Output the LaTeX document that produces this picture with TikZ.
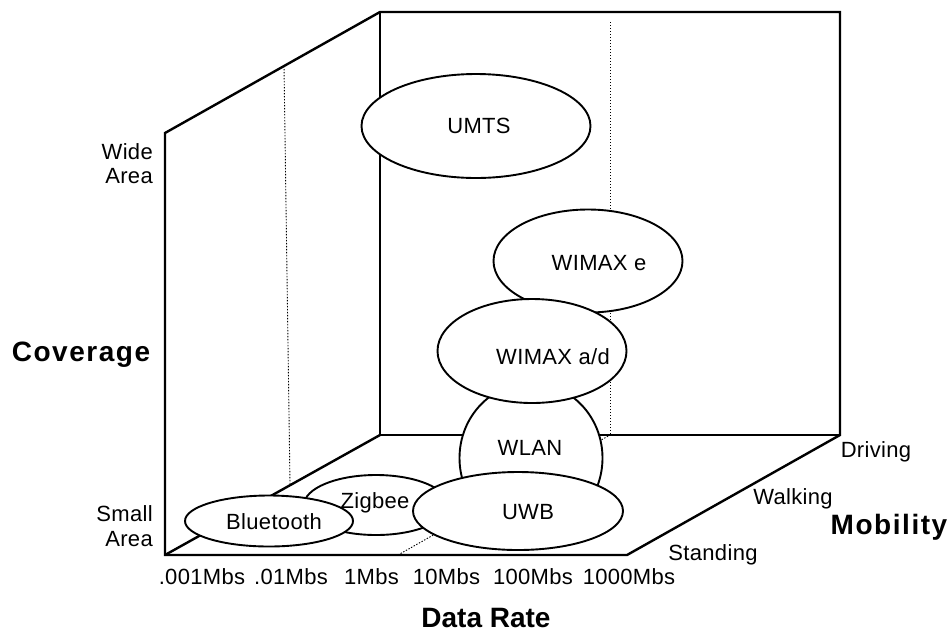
\documentclass[tikz,border=0pt]{standalone}
\usepackage{fontspec}
\setmainfont{Liberation Sans}
\newfontfamily\lblfont[LetterSpace=1.5]{Liberation Sans}
\newfontfamily\axisfont[LetterSpace=5.5]{Liberation Sans}
\usetikzlibrary{shapes.geometric}
\begin{document}
\begin{tikzpicture}[x=1pt,y=-1pt,
  frame/.style={line width=2.4pt,line join=miter},
  gridline/.style={line width=0.9pt,dash pattern=on 1.4pt off 1.6pt},
  blob/.style={ellipse,draw,fill=white,line width=1.9pt,inner sep=0pt},
  txt/.style={inner sep=0pt,font=\lblfont\fontsize{22}{24}\selectfont},
  axis/.style={inner sep=0pt,font=\axisfont\fontsize{28}{30}\selectfont\bfseries},
  axisplain/.style={inner sep=0pt,font=\fontsize{28}{30}\selectfont\bfseries}]
\useasboundingbox (0,0) rectangle (949,638);
% frame corners
\coordinate (A) at (165,555);
\coordinate (B) at (165,133);
\coordinate (C) at (380,12);
\coordinate (D) at (380,435);
\coordinate (E) at (840,12);
\coordinate (F) at (840,435);
\coordinate (G) at (627,555);
% grid line end points
\coordinate (g1t) at (284,66);
\coordinate (g1b) at (290,484);
\coordinate (g2t) at (610,22);
\coordinate (g2b) at (610,435);
\coordinate (g3f) at (398,555);
% dotted grid lines
\draw[gridline] (g1t) -- (g1b);
\draw[gridline] (g2t) -- (g2b);
\draw[gridline] (g3f) -- (g2b);
% frame
\draw[frame] (A) -- (B) -- (C) -- (E) -- (F) -- (G) -- cycle;
\draw[frame] (C) -- (D) -- (F);
\draw[frame] (A) -- (D);
% technology ellipses
\node[blob,minimum width=229pt,minimum height=104pt] (umts) at (476,126) {};
\node[blob,minimum width=189pt,minimum height=103pt] (wimaxe) at (588,261) {};
\node[blob,minimum width=143pt,minimum height=150pt] (wlan) at (531,458) {};
\node[blob,minimum width=189pt,minimum height=104pt] (wimaxad) at (532,351) {};
\node[blob,minimum width=144pt,minimum height=60pt] (zigbee) at (376,505) {};
\node[blob,minimum width=168pt,minimum height=51pt] (bluetooth) at (269,521) {};
\node[blob,minimum width=210pt,minimum height=78pt] (uwb) at (518,511) {};
% ellipse texts
\node[txt] (tumts) at (479,126) {UMTS};
\node[txt] (twimaxe) at (599,263) {WIMAX e};
\node[txt] (twimaxad) at (553,357) {WIMAX a/d};
\node[txt] (twlan) at (530,448) {WLAN};
\node[txt] (tuwb) at (528,512) {UWB};
\node[txt] (tzigbee) at (375,503) {Zigbee};
\node[txt] (tbluetooth) at (274,522) {Bluetooth};
% coverage axis
\node[txt,align=right,anchor=east] (wide) at (153,164) {Wide\\Area};
\node[txt,align=right,anchor=east,font=\lblfont\fontsize{22}{25}\selectfont] (small) at (153,526) {Small\\Area};
\node[axis] (coverage) at (81,355) {Coverage};
% data rate axis
\node[txt] (r1) at (202,577) {.001Mbs};
\node[txt] (r2) at (291,577) {.01Mbs};
\node[txt] (r3) at (371.5,577) {1Mbs};
\node[txt] (r4) at (446.5,577) {10Mbs};
\node[txt] (r5) at (533,577) {100Mbs};
\node[txt] (r6) at (629,577) {1000Mbs};
\node[axisplain] (datarate) at (486,618) {Data Rate};
% mobility axis
\node[txt] (standing) at (713,555) {Standing};
\node[txt] (walking) at (793,499) {Walking};
\node[txt] (driving) at (876,452) {Driving};
\node[axis] (mobility) at (889,527) {Mobility};
\end{tikzpicture}
\end{document}
